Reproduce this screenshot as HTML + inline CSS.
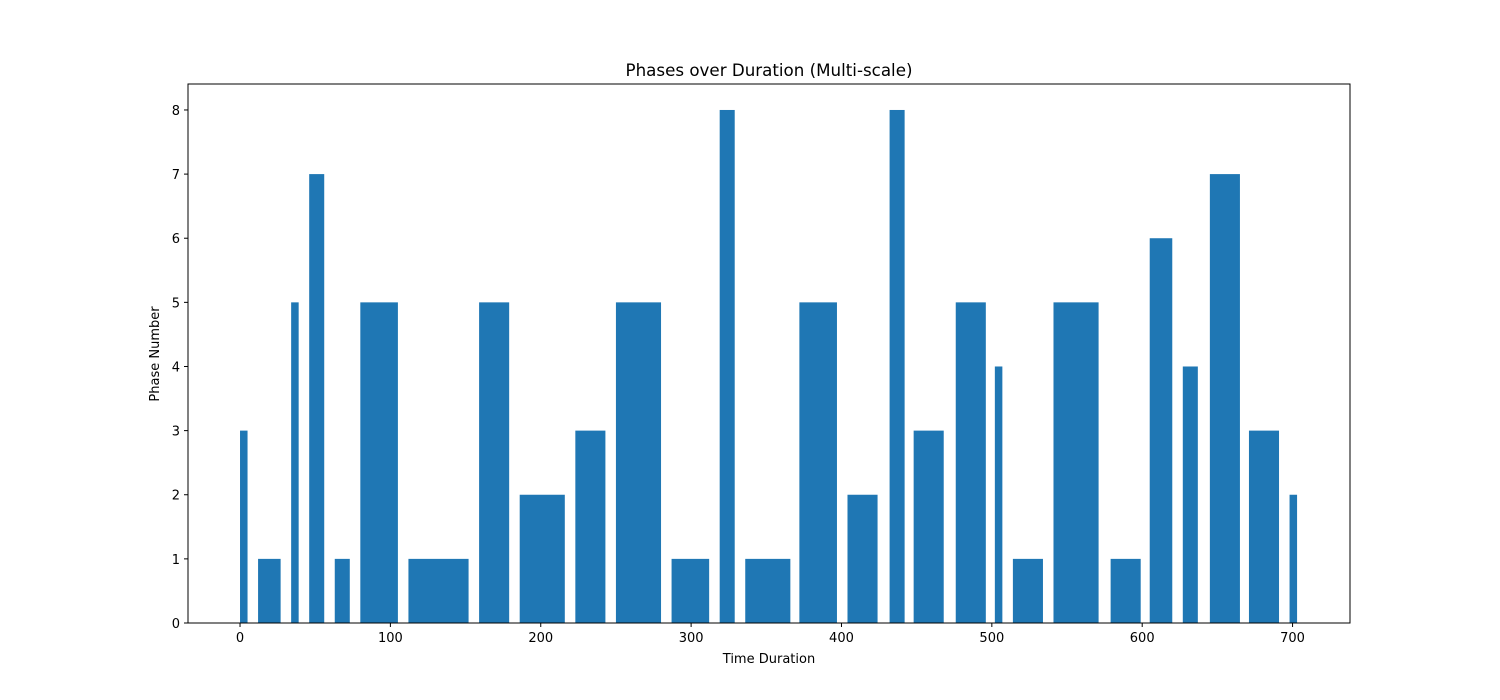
<!DOCTYPE html>
<html><head><meta charset="utf-8"><style>
body{margin:0;background:#fff;}
svg{display:block;font-family:"DejaVu Sans","Liberation Sans",sans-serif;}
</style></head><body>
<svg id="chart" width="1500" height="700">
<rect x="0" y="0" width="1500" height="700" fill="#fff"/>
<text x="769" y="76" font-size="16.7" text-anchor="middle">Phases over Duration (Multi-scale)</text>
<text x="769" y="663" font-size="13" text-anchor="middle">Time Duration</text>
<text x="159" y="354" font-size="13" text-anchor="middle" transform="rotate(-90 159 354)">Phase Number</text>
<g id="bars"></g>
<g id="ticks"></g>
<rect x="188" y="84" width="1162" height="539" fill="none" stroke="#000" stroke-width="1"/>
</svg>
<script>
const starts=[0,12,34,46,63,80,112,159,186,223,250,287,319,336,372,404,432,448,476,502,514,541,579,605,627,645,671,698];
const widths=[5,15,5,10,10,25,40,20,30,20,30,25,10,30,25,20,10,20,20,5,20,30,20,15,10,20,20,5];
const phases=[3,1,5,7,1,5,1,5,2,3,5,1,8,1,5,2,8,3,5,4,1,5,1,6,4,7,3,2];
const xTicks=[0,100,200,300,400,500,600,700];
const yTicks=[0,1,2,3,4,5,6,7,8];
const NS="http://www.w3.org/2000/svg";
const X0=188,X1=1350,Y0=623,Y1=84,xmin=-34.6,xmax=738.2,ymin=0,ymax=8.405;
const sx=v=>X0+(v-xmin)/(xmax-xmin)*(X1-X0);
const sy=v=>Y0-(v-ymin)/(ymax-ymin)*(Y0-Y1);
const bars=document.getElementById('bars');
phases.forEach((p,i)=>{
  const r=document.createElementNS(NS,'rect');
  r.setAttribute('x',sx(starts[i]));
  r.setAttribute('width',sx(starts[i]+widths[i])-sx(starts[i]));
  r.setAttribute('y',sy(p));
  r.setAttribute('height',sy(0)-sy(p));
  r.setAttribute('fill','#1f77b4');
  
  
  bars.appendChild(r);
});
const tg=document.getElementById('ticks');
xTicks.forEach(t=>{
  const x=sx(t);
  const l=document.createElementNS(NS,'line');
  l.setAttribute('x1',x);l.setAttribute('x2',x);l.setAttribute('y1',Y0);l.setAttribute('y2',Y0+4);l.setAttribute('stroke','#000');
  
  
  tg.appendChild(l);
  const s=document.createElementNS(NS,'text');
  s.setAttribute('x',x);s.setAttribute('y',Y0+19);s.setAttribute('font-size','13');s.setAttribute('text-anchor','middle');
  s.textContent=t;
  
  
  tg.appendChild(s);
});
yTicks.forEach(t=>{
  const y=sy(t);
  const l=document.createElementNS(NS,'line');
  l.setAttribute('x1',X0-4);l.setAttribute('x2',X0);l.setAttribute('y1',y);l.setAttribute('y2',y);l.setAttribute('stroke','#000');
  
  
  tg.appendChild(l);
  const s=document.createElementNS(NS,'text');
  s.setAttribute('x',X0-8);s.setAttribute('y',y+5);s.setAttribute('font-size','13');s.setAttribute('text-anchor','end');
  s.textContent=t;
  
  
  tg.appendChild(s);
});
</script>
</body></html>
